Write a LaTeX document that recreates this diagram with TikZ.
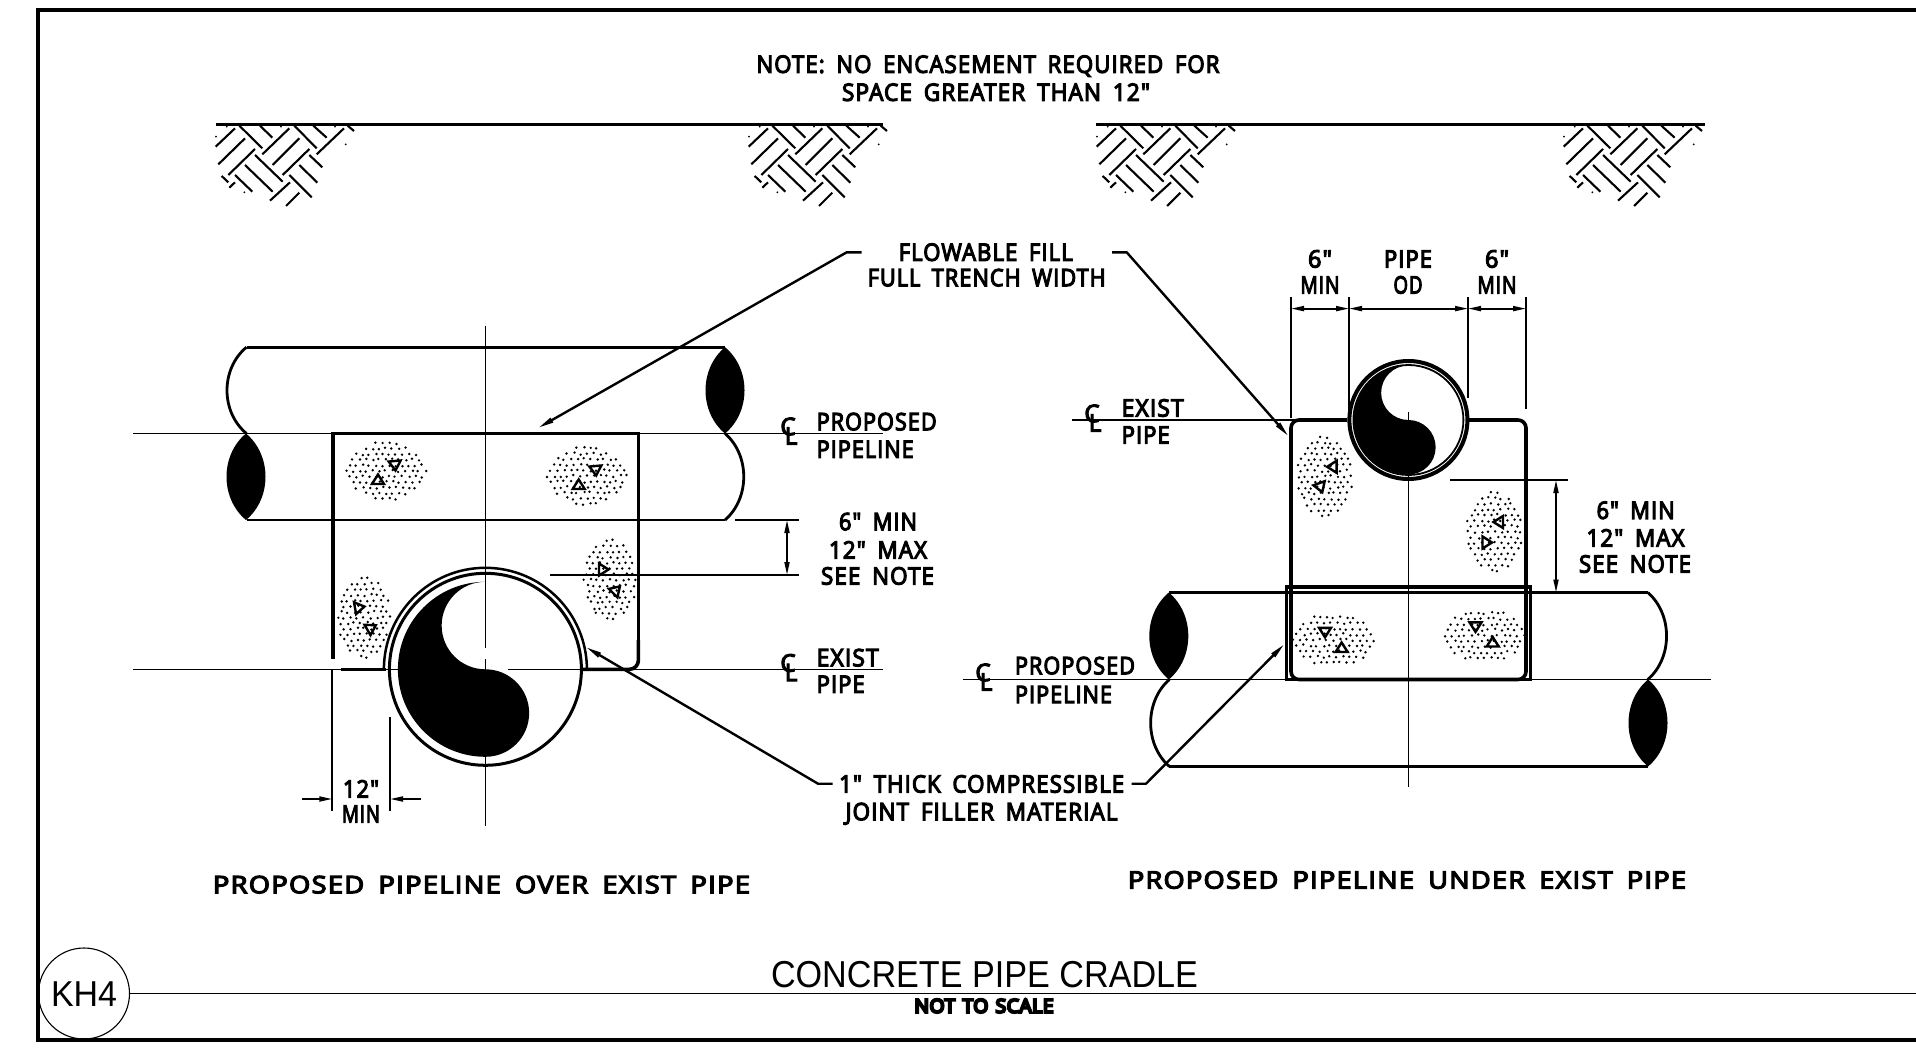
\documentclass[tikz,border=0pt]{standalone}
\usepackage{graphicx}
\usepackage{fontspec}
\newfontfamily\cadf{Open Sans}[LetterSpace=5,WordSpace=1.7,FakeBold=5]
\newfontfamily\cadbf{Open Sans}[LetterSpace=3,WordSpace=1.3,FakeBold=12]
\newfontfamily\arialf{Liberation Sans}
\usetikzlibrary{arrows.meta}
\newcommand\fw[2]{\resizebox{#1pt}{\height}{#2}}
\newcommand\stipple[5]{%
  \pgfmathsetseed{#5}%
  \foreach \i in {-8,...,8}{\foreach \j in {-9,...,9}{%
    \pgfmathsetmacro\px{\i*6.6+mod(\j+20,2)*3.3}%
    \pgfmathsetmacro\py{\j*5.6}%
    \pgfmathsetmacro\rr{(\px/#3)*(\px/#3)+(\py/#4)*(\py/#4)}%
    \ifdim\rr pt<1pt
      \pgfmathsetmacro\jx{\px+rand*1.1}%
      \pgfmathsetmacro\jy{\py+rand*1.1}%
      \fill (#1+\jx,#2+\jy) circle[radius=1.35];%
    \fi
  }}}
\newcommand\tri[3]{\draw[tribox,shift={(#1,#2)},rotate=#3] (-6,4)--(6,4)--(0,-5.5)--cycle;}
\newcommand\yinyang[3]{\pgfmathsetmacro\hr{#3/2}%
  \fill (#1,#2-#3) arc[start angle=270,end angle=90,radius=#3]
    arc[start angle=90,end angle=-90,radius=\hr]
    arc[start angle=90,end angle=270,radius=\hr] -- cycle;}
\newcommand\lens[3]{\fill (#1,#2) .. controls (#1-26,#2+0.25*#3-0.25*#2) and (#1-26,#2+0.75*#3-0.75*#2) .. (#1,#3)
  .. controls (#1+26,#2+0.75*#3-0.75*#2) and (#1+26,#2+0.25*#3-0.25*#2) .. (#1,#2) -- cycle;}
\newcommand\bulge[4]{\draw[pipeline] (#1,#2) .. controls (#1+#4,#2+0.25*#3-0.25*#2) and (#1+#4,#2+0.75*#3-0.75*#2) .. (#1,#3);}
\newcommand\hatchpic[1]{\begin{scope}[shift={(200+#1,110)},scale=0.33333,hatchline]
  \foreach \a/\b/\c/\d in {47/110/105/55,55/163/135/85,85/195/165/117,187/133/268/55,218/165/298/85,248/195/328/117,350/133/432/55,118/47/187/115,180/47/217/83,283/47/350/115,340/47/380/83,443/47/462/63,165/135/248/215,135/165/218/245,105/195/157/245,65/198/85/217,328/135/367/172,298/165/352/218,268/195/335/262,88/233/105/217,210/272/270/217,258/288/298/248}{\draw (\a,\b)--(\c,\d);}
  \foreach \a/\b in {48/80,80/50,243/50,405/50,437/103,133/247}{\fill (\a,\b) circle[radius=3];}
  \end{scope}}
\tikzset{
  cad/.style={inner sep=0pt,outer sep=0pt,font=\cadf\fontsize{24}{24}\selectfont,text height=17pt,text depth=0pt},
  cen/.style={draw=black,line width=1.6pt},
  pipeline/.style={draw=black,line width=2.8pt},
  cradle/.style={draw=black,line width=3.6pt},
  dimline/.style={draw=black,line width=2.2pt},
  dimarrow/.style={draw=black,line width=1.8pt,{Triangle[length=13pt,width=5pt]}-{Triangle[length=13pt,width=5pt]}},
  onearrow/.style={draw=black,line width=1.8pt,-{Triangle[length=13pt,width=5pt]}},
  leader/.style={draw=black,line width=2.4pt,line join=round,-{Triangle[length=16pt,width=5pt]}},
  ground/.style={draw=black,line width=3.2pt},
  hatchline/.style={line width=2.1pt},
  tribox/.style={draw=black,line width=2.4pt,line join=miter},
}
\begin{document}
\begin{tikzpicture}[x=1pt,y=-1pt]
\useasboundingbox (0,0) rectangle (1916,1057);
% frame and title
\draw[line width=4.5pt] (1916,10)--(38,10)--(38,1040)--(1916,1040);
\node[draw=black,line width=1.1pt,circle,minimum size=91pt,inner sep=0pt,outer sep=0pt] (tagc) at (84,993.5) {};
\node[inner sep=0pt,font=\arialf\fontsize{36}{36}\selectfont,text height=26pt,text depth=0pt] (tag) at (84,993.5) {\fw{66}{KH4}};
\coordinate (tend) at (1916,993.5);
\draw[line width=1.4pt] (tagc.east)--(tend);
\node[inner sep=0pt,font=\arialf\fontsize{37.5}{38}\selectfont,text height=27pt,text depth=0pt] (title) at (984.5,973.5) {\fw{427}{CONCRETE PIPE CRADLE}};
\node[inner sep=0pt,font=\cadbf\fontsize{19}{19}\selectfont,text height=14pt,text depth=0pt] (nts) at (984,1005.7) {\fw{139}{NOT TO SCALE}};
% note
\node[cad] (n1) at (988,64.3) {\fw{463}{NOTE: NO ENCASEMENT REQUIRED FOR}};
\node[cad] (n2) at (996,92.3) {\fw{308}{SPACE GREATER THAN 12"}};
% ground
\coordinate (g1a) at (216,124.7); \coordinate (g1b) at (883,124.7);
\coordinate (g2a) at (1096,124.7); \coordinate (g2b) at (1705,124.7);
\draw[ground] (g1a)--(g1b);
\draw[ground] (g2a)--(g2b);
\hatchpic{0}\hatchpic{533}\hatchpic{881}\hatchpic{1348}

% ===== LEFT VIEW =====
\draw[cen] (133,433.5)--(883,433.5);
\draw[cen] (133,669.3)--(400,669.3);
\draw[cen] (507.5,669.3)--(883,669.3);
\draw[cen] (485.4,325.6)--(485.4,647.5);
\draw[cen] (485.4,659)--(485.4,826);
\draw[pipeline] (246.5,347.2)--(725,347.2);
\draw[pipeline] (246.5,520)--(725,520);
\bulge{246.5}{347.2}{433.5}{-26}
\bulge{725}{433.5}{520}{25}
\lens{246}{433.5}{520}
\lens{725}{347.2}{433.5}
\draw[cradle] (333,658.5)--(333,433.5)--(638.4,433.5)--(638.4,655);
\draw[cradle,rounded corners=9pt] (638.4,640)--(638.4,669.3)--(582.6,669.3);
\draw[cradle] (341.4,669.3)--(386,669.3);
\draw[line width=3pt] (485.4,669.3) circle[radius=96];
\draw[line width=2.5pt] (383.9,669.3) arc[start angle=180,end angle=360,radius=101.5];
\yinyang{485.4}{669.3}{87.5}
% stipple
\stipple{385.7}{471}{40}{29}{11}
\stipple{587}{476}{40}{29}{12}
\stipple{610}{580}{27}{41}{13}
\stipple{364}{617.5}{27}{41}{14}
\tri{395}{465}{185}\tri{378}{480}{0}
\tri{595.7}{470}{185}\tri{578.7}{485}{0}
\tri{603}{569.5}{270}\tri{616}{590.3}{315}
\tri{359}{607.5}{280}\tri{371}{628}{300}
% left dims
\coordinate (la1) at (735,520); \coordinate (la2) at (799,520);
\coordinate (lb1) at (550,575); \coordinate (lb2) at (799,575);
\coordinate (la3) at (787,520); \coordinate (lb3) at (787,575);
\draw[dimline] (la1)--(la2);
\draw[dimline] (lb1)--(lb2);
\draw[dimarrow] (la3)--(lb3);
\coordinate (e1a) at (332.3,669.3); \coordinate (e1b) at (332.3,811);
\coordinate (e2a) at (390,717); \coordinate (e2b) at (390,811);
\draw[dimline] (e1a)--(e1b);
\draw[dimline] (e2a)--(e2b);
\coordinate (ar1a) at (302,799); \coordinate (ar1b) at (332.3,799);
\coordinate (ar2a) at (420.5,799); \coordinate (ar2b) at (390,799);
\draw[onearrow] (ar1a)--(ar1b);
\draw[onearrow] (ar2a)--(ar2b);
\node[cad] (l12) at (361,789) {\fw{36}{12"}};
\node[cad] (lmin) at (361,814) {\fw{38}{MIN}};
% CL labels left
\node[cad] (c1) at (788,426.5) {C}; \node[cad] (l1) at (791,436) {L};
\node[cad,anchor=west] (p1) at (816.7,421.7) {\fw{120}{PROPOSED}};
\node[cad,anchor=west] (p2) at (816.7,449.3) {\fw{97}{PIPELINE}};
\node[cad] (c2) at (788,663) {C}; \node[cad] (l2) at (791,672.5) {L};
\node[cad,anchor=west] (x1) at (816.7,657.7) {\fw{62}{EXIST}};
\node[cad,anchor=west] (x2) at (816.7,684.3) {\fw{48}{PIPE}};
\node[cad] (d1) at (878,521.7) {\fw{78}{6" MIN}};
\node[cad] (d2) at (878,550) {\fw{98}{12" MAX}};
\node[cad] (d3) at (877.5,576) {\fw{113}{SEE NOTE}};
\node[cad] (t1) at (481.5,884.7) {\fw{537}{PROPOSED PIPELINE OVER EXIST PIPE}};

% ===== RIGHT VIEW =====
\draw[cen] (962.7,679.5)--(1711,679.5);
\draw[cen] (1072,420)--(1300,420);
\draw[cen] (1408.4,411.7)--(1408.4,787);
\draw[pipeline] (1169.4,592.5)--(1647.8,592.5);
\draw[pipeline] (1169.4,766.5)--(1647.8,766.5);
\bulge{1169.4}{679.5}{766.5}{-25}
\bulge{1647.8}{592.5}{679.5}{25}
\lens{1168.8}{592.5}{679.5}
\lens{1648}{679.5}{766.5}
\draw[cradle,rounded corners=8pt] (1347,420)--(1291,420)--(1291,679.5)--(1526,679.5)--(1526,420)--(1469,420);
\draw[line width=3.2pt] (1286.5,587) rectangle (1530.6,679.5);
\draw[line width=4pt] (1408.4,420) circle[radius=59];
\draw[line width=1.8pt] (1408.4,420) circle[radius=55];
\yinyang{1408.4}{420}{54.5}
\stipple{1324.5}{476.4}{28}{40}{21}
\stipple{1494.7}{531.8}{28}{40}{22}
\stipple{1333.5}{640}{40}{28}{23}
\stipple{1484.5}{635.4}{40}{28}{24}
\tri{1332.6}{466.8}{90}\tri{1320.4}{487}{200}
\tri{1499}{522}{90}\tri{1486.5}{542.5}{270}
\tri{1325}{631.8}{180}\tri{1341.6}{648}{0}
\tri{1475.5}{626.4}{180}\tri{1492.7}{642.5}{0}
% right dims
\coordinate (v1a) at (1291,297); \coordinate (v1b) at (1291,417.5);
\coordinate (v2a) at (1349,297); \coordinate (v2b) at (1349,420);
\coordinate (v3a) at (1468,297); \coordinate (v3b) at (1468,398);
\coordinate (v4a) at (1526,297); \coordinate (v4b) at (1526,408.6);
\draw[dimline] (v1a)--(v1b);
\draw[dimline] (v2a)--(v2b);
\draw[dimline] (v3a)--(v3b);
\draw[dimline] (v4a)--(v4b);
\coordinate (q1) at (1291,308.6); \coordinate (q2) at (1349,308.6);
\coordinate (q3) at (1468,308.6); \coordinate (q4) at (1526,308.6);
\draw[dimarrow] (q1)--(q2);
\draw[dimarrow] (q2)--(q3);
\draw[dimarrow] (q3)--(q4);
\node[cad] (r6a) at (1320,259) {\fw{24}{6"}};
\node[cad] (rma) at (1320,285) {\fw{39}{MIN}};
\node[cad] (rpi) at (1408,259) {\fw{48}{PIPE}};
\node[cad] (rod) at (1408,285) {\fw{29}{OD}};
\node[cad] (r6b) at (1497,259) {\fw{24}{6"}};
\node[cad] (rmb) at (1497,285) {\fw{39}{MIN}};
\coordinate (s1) at (1450,480); \coordinate (s2) at (1568,480);
\coordinate (s3) at (1556,480); \coordinate (s4) at (1556,592.5);
\draw[line width=2.8pt] (s1)--(s2);
\draw[dimarrow] (s3)--(s4);
\node[cad] (e1) at (1635.6,510.4) {\fw{78}{6" MIN}};
\node[cad] (e2) at (1635.5,538) {\fw{98}{12" MAX}};
\node[cad] (e3) at (1635,564) {\fw{112}{SEE NOTE}};
\node[cad] (c3) at (1092,413.5) {C}; \node[cad] (l3) at (1095,423) {L};
\node[cad,anchor=west] (y1) at (1121.7,408) {\fw{62}{EXIST}};
\node[cad,anchor=west] (y2) at (1121.7,435) {\fw{48}{PIPE}};
\node[cad] (c4) at (983,672.5) {C}; \node[cad] (l4) at (986,682) {L};
\node[cad,anchor=west] (z1) at (1015,665.7) {\fw{120}{PROPOSED}};
\node[cad,anchor=west] (z2) at (1015,694.5) {\fw{97}{PIPELINE}};
\node[cad] (t2) at (1407,880) {\fw{558}{PROPOSED PIPELINE UNDER EXIST PIPE}};

% ===== LEADERS =====
\node[cad] (ff1) at (985.7,252.3) {\fw{174}{FLOWABLE FILL}};
\node[cad] (ff2) at (986.7,277.7) {\fw{238}{FULL TRENCH WIDTH}};
\node[cad] (jf1) at (981.7,784) {\fw{285}{1" THICK COMPRESSIBLE}};
\node[cad] (jf2) at (981.5,811.7) {\fw{272}{JOINT FILLER MATERIAL}};
\coordinate (fa) at (861.7,252.3); \coordinate (fb) at (846.7,252.3); \coordinate (ftip) at (538,428);
\coordinate (fc) at (1112,252.3); \coordinate (fd) at (1126.7,252.3); \coordinate (ftip2) at (1288.6,436.4);
\coordinate (ja) at (832.7,783.7); \coordinate (jb) at (818,783.7); \coordinate (jtip) at (585.8,647);
\coordinate (jc) at (1131.7,783.7); \coordinate (jd) at (1146,783.7); \coordinate (jtip2) at (1284.5,644);
\draw[leader] (fa)--(fb)--(ftip);
\draw[leader] (fc)--(fd)--(ftip2);
\draw[leader] (ja)--(jb)--(jtip);
\draw[leader] (jc)--(jd)--(jtip2);
\end{tikzpicture}
\end{document}
